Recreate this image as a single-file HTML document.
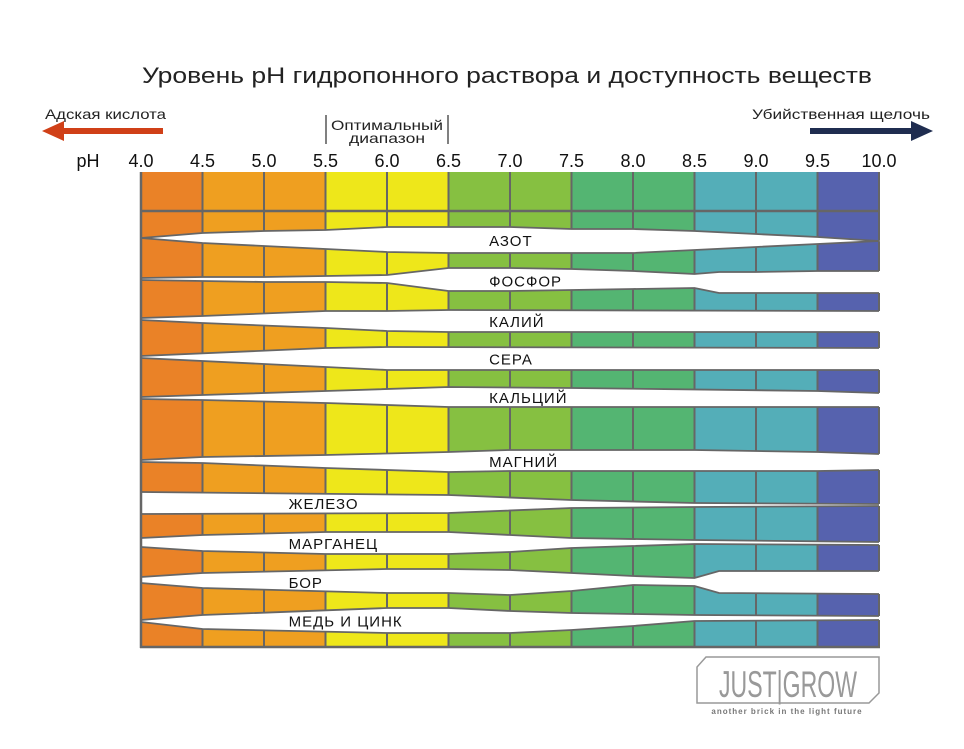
<!DOCTYPE html>
<html><head><meta charset="utf-8"><style>
body{margin:0;background:#fff;}
svg{display:block;font-family:"Liberation Sans","DejaVu Sans",sans-serif;}
</style></head><body>
<svg id="c" width="964" height="749" viewBox="0 0 964 749">
<text x="142" y="83" font-size="22" fill="#222" textLength="730" lengthAdjust="spacingAndGlyphs">Уровень pH гидропонного раствора и доступность веществ</text>
<text x="45" y="119" font-size="14" fill="#222" textLength="121" lengthAdjust="spacingAndGlyphs">Адская кислота</text>
<g><rect x="58" y="128" width="105" height="6" fill="#d04018"/><polygon points="42,131 64,121 64,141" fill="#d04018"/></g>
<text x="752" y="119" font-size="14" fill="#222" textLength="178" lengthAdjust="spacingAndGlyphs">Убийственная щелочь</text>
<g><rect x="810" y="128" width="105" height="6" fill="#1f2d50"/><polygon points="933,131 911,121 911,141" fill="#1f2d50"/></g>
<g>
<line x1="326" y1="115" x2="326" y2="144" stroke="#555" stroke-width="1.5"/>
<line x1="448" y1="115" x2="448" y2="144" stroke="#555" stroke-width="1.5"/>
<text x="331" y="130" font-size="14" fill="#222" textLength="112" lengthAdjust="spacingAndGlyphs">Оптимальный</text>
<text x="349" y="143" font-size="14" fill="#222" textLength="76" lengthAdjust="spacingAndGlyphs">диапазон</text>
</g>
<text x="88" y="167" font-size="18" text-anchor="middle" fill="#111">pH</text>
<g id="ticks"></g>
<g id="cols"></g>
<g id="gaps"></g>
<g id="labels"></g>
<g>
<polygon points="706,657 879,657 879,693 869,703 697,703 697,667" fill="none" stroke="#999" stroke-width="1.5"/>
<text x="788" y="697" font-size="37" text-anchor="middle" fill="#999" font-family="Liberation Sans Narrow,Liberation Sans,sans-serif" textLength="138" lengthAdjust="spacingAndGlyphs">JUST|GROW</text>
<text x="787" y="714" font-size="8" text-anchor="middle" fill="#777" font-weight="bold" letter-spacing="1">another brick in the light future</text>
</g>
</svg>
<script>
const phTicks = [4.0,4.5,5.0,5.5,6.0,6.5,7.0,7.5,8.0,8.5,9.0,9.5,10.0];
const colColors = ["#ea8227","#ef9f20","#ef9f20","#eee71a","#eee71a","#86c041","#86c041","#54b572","#54b572","#54aeb8","#54aeb8","#5662ae"];
const nutrientNames = ["АЗОТ","ФОСФОР","КАЛИЙ","СЕРА","КАЛЬЦИЙ","МАГНИЙ","ЖЕЛЕЗО","МАРГАНЕЦ","БОР","МЕДЬ И ЦИНК"];
const labelPh = [6.83,6.83,6.83,6.83,6.83,6.83,5.2,5.2,5.2,5.2];
const gapPh = [
 [4,4.5,5,5.5,6,6.5,7,7.5,8,8.5,9,9.5,10],
 [4,4.5,5,5.5,6,6.5,7,7.5,8,8.5,8.7,9,9.5,10],
 [4,4.5,5.5,6,6.5,10],
 [4,5.5,6,10],
 [4,4.5,5.5,6.5,7.5,9.5,10],
 [4,4.5,5.5,6.5,7,8.5,9.5,10],
 [4,6.5,7.5,8.5,10],
 [4,4.5,5.5,6.5,7,7.5,8.5,10],
 [4,4.5,6,6.5,7,7.5,8,8.5,8.7,10],
 [4,4.5,6,6.5,7,7.5,8,8.5,10]
];
const gapTop = [
 [238,233,231,230,227,227,227,229,229,231,234,237,241],
 [278,277,277,276,275,268,268,269,271,274,272,272,271,271],
 [318,316,311,311,310,311],
 [356,348,347,348],
 [397,395,391,387,388,391,393],
 [460,457,455,452,450,450,452,454],
 [492,495,500,503,504],
 [538,535,532,532,535,538,540,542],
 [577,573,569,569,570,573,576,578,571,571],
 [620,615,608,608,611,613,614,615,616]
];
const gapBottom = [
 [238,243,246,249,252,253,253,253,253,250,247,244,241],
 [280,281,282,282,283,291,291,290,289,288,293,293,293,293],
 [320,323,328,331,332,332],
 [358,367,370,370],
 [399,400,403,407,407,407,407],
 [462,463,468,472,471,471,471,470],
 [514,513,508,507,506],
 [547,551,554,554,552,548,544,545],
 [583,588,593,593,595,591,585,586,593,594],
 [622,629,633,633,633,630,626,621,620]
];
const NS="http://www.w3.org/2000/svg";
const X0=141,X1=879,Y0=172,Y1=647;
function xs(ph){return X0+(ph-4)*(X1-X0)/6;}
function mk(tag,attrs,parent){const e=document.createElementNS(NS,tag);for(const k in attrs)e.setAttribute(k,attrs[k]);parent.appendChild(e);return e;}
const ticksG=document.getElementById('ticks'),colsG=document.getElementById('cols'),gapsG=document.getElementById('gaps'),labG=document.getElementById('labels');
phTicks.forEach(p=>{
 const t=mk('text',{x:xs(p),y:167,'font-size':18,'text-anchor':'middle',fill:'#111'},ticksG);
 
 
 t.textContent=p.toFixed(1);
});
colColors.forEach((c,i)=>{
 const r=mk('rect',{x:xs(phTicks[i]),y:Y0,width:xs(phTicks[i+1])-xs(phTicks[i]),height:Y1-Y0,fill:c},colsG);
 
 
});
phTicks.forEach(p=>{mk('line',{x1:xs(p),y1:Y0,x2:xs(p),y2:Y1,stroke:'#666','stroke-width':2},colsG);});
mk('line',{x1:X0,y1:211,x2:X1,y2:211,stroke:'#666','stroke-width':2.5},colsG);
gapPh.forEach((phs,i)=>{
 const top=phs.map((p,j)=>[xs(p),gapTop[i][j]]);
 const bot=phs.map((p,j)=>[xs(p),gapBottom[i][j]]);
 const pts=top.slice();pts[pts.length-1]=[X1+3,top[top.length-1][1]];
 const bpts=bot.slice();bpts[bpts.length-1]=[X1+3,bot[bot.length-1][1]];
 const all=pts.concat(bpts.reverse());
 const g=mk('polygon',{points:all.map(q=>q.join(',')).join(' '),fill:'#fff'},gapsG);
 
 
 mk('polyline',{points:top.map(q=>q.join(',')).join(' '),fill:'none',stroke:'#666','stroke-width':1.8},gapsG);
 mk('polyline',{points:bot.map(q=>q.join(',')).join(' '),fill:'none',stroke:'#666','stroke-width':1.8},gapsG);
 const midY=(Math.min(...gapTop[i])+Math.max(...gapBottom[i]))/2;
 const t=mk('text',{x:xs(labelPh[i]),y:midY+6,'font-size':15,fill:'#111','letter-spacing':'1'},labG);
 
 
 t.textContent=nutrientNames[i];
});
mk('line',{x1:X0,y1:Y0,x2:X0,y2:Y1+1,stroke:'#666','stroke-width':2.5},labG);
mk('line',{x1:X0-1,y1:Y1,x2:X1+1,y2:Y1,stroke:'#666','stroke-width':2.5},labG);
</script>
</body></html>
